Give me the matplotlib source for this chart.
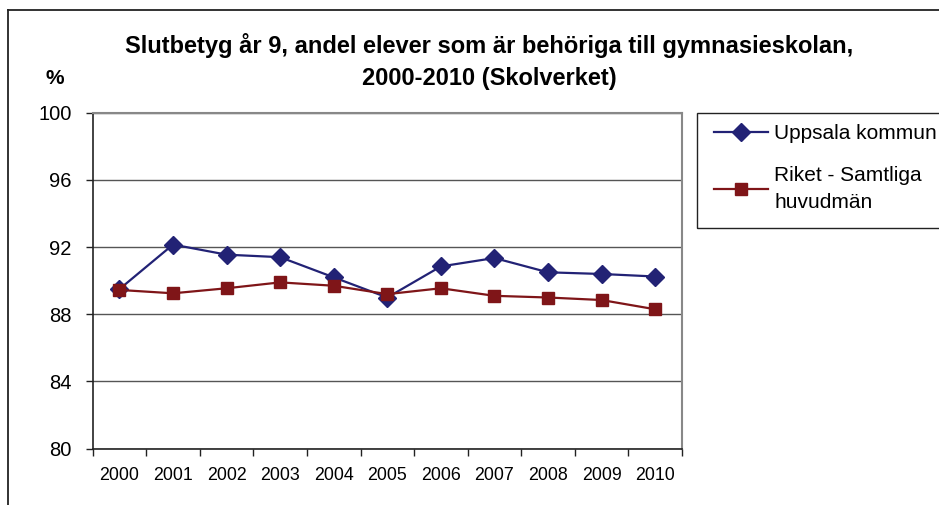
import numpy as np
import matplotlib
matplotlib.use("Agg")
from matplotlib import pyplot as plt
from matplotlib.lines import Line2D
from matplotlib.patches import Rectangle

plt.rcParams['font.family'] = ['Liberation Sans', 'DejaVu Sans']

years = ['2000', '2001', '2002', '2003', '2004', '2005',
         '2006', '2007', '2008', '2009', '2010']
uppsala = [89.5, 92.15, 91.55, 91.4, 90.2, 89.0, 90.85, 91.35, 90.5, 90.4, 90.25]
riket = [89.45, 89.25, 89.55, 89.9, 89.7, 89.2, 89.55, 89.1, 89.0, 88.85, 88.3]
y_ticks = [80, 84, 88, 92, 96, 100]

title = 'Slutbetyg år 9, andel elever som är behöriga till gymnasieskolan,\n2000-2010 (Skolverket)'

W, H = 939, 505
fig = plt.figure(figsize=(W / 100, H / 100), dpi=100)
ax = fig.add_axes([0.0987, 0.1115, 0.6275, 0.6653])

x = np.arange(len(years))
ax.plot(x, uppsala, color='#222275', lw=1.6, marker='D', ms=9.5,
        label='Uppsala kommun', zorder=3)
ax.plot(x, riket, color='#7f1518', lw=1.6, marker='s', ms=8.5,
        label='Riket - Samtliga\nhuvudmän', zorder=3)

ax.set_xlim(-0.5, len(years) - 0.5)
ax.set_ylim(80, 100)
ax.set_yticks(y_ticks)
ax.set_yticklabels([str(v) for v in y_ticks], fontsize=14.5)
ax.set_xticks(x)
ax.set_xticklabels(years, fontsize=12.8)
ax.set_xticks(np.arange(len(years) + 1) - 0.5, minor=True)
ax.tick_params(axis='x', which='major', length=0, pad=13)
ax.tick_params(axis='x', which='minor', length=5, width=1, color='#222222')
ax.tick_params(axis='y', length=5, width=1, color='#222222', pad=10)

ax.grid(axis='y', color='#555555', lw=1)
ax.set_axisbelow(True)
for s in ['left', 'bottom']:
    ax.spines[s].set_color('#222222')
    ax.spines[s].set_linewidth(1.2)
ax.spines['right'].set_color('#888888')
ax.spines['right'].set_linewidth(1.5)
ax.spines['top'].set_color('#888888')
ax.spines['top'].set_linewidth(1.5)

fig.text(0.521, 0.878, title, ha='center', va='center', fontsize=17,
         fontweight='bold', linespacing=1.5)
fig.text(0.058, 0.845, '%', ha='center', va='center', fontsize=15,
         fontweight='bold')

# legend without its own frame; the box is drawn separately (cut by the edge)
leg = ax.legend(loc='upper left', bbox_to_anchor=(714 / W, 1 - 124 / H),
                bbox_transform=fig.transFigure, fontsize=15,
                frameon=False, handlelength=2.6, handletextpad=0.3,
                labelspacing=1.1, borderpad=0, borderaxespad=0)
for t in leg.get_texts():
    t.set_linespacing(1.55)
fig.add_artist(Rectangle((697 / W, 1 - 228 / H), 260 / W, 115 / H,
                         transform=fig.transFigure, fill=False,
                         edgecolor='#222222', lw=1))

# outer chart border, cut by the image edge at right and bottom
bx, by = 8 / W, 1 - 10 / H
fig.add_artist(Line2D([bx, 1.01], [by, by], color='#222222', lw=1.3,
                      transform=fig.transFigure))
fig.add_artist(Line2D([bx, bx], [by, -0.01], color='#222222', lw=1.3,
                      transform=fig.transFigure))

fig.savefig('out.png', dpi=100)
